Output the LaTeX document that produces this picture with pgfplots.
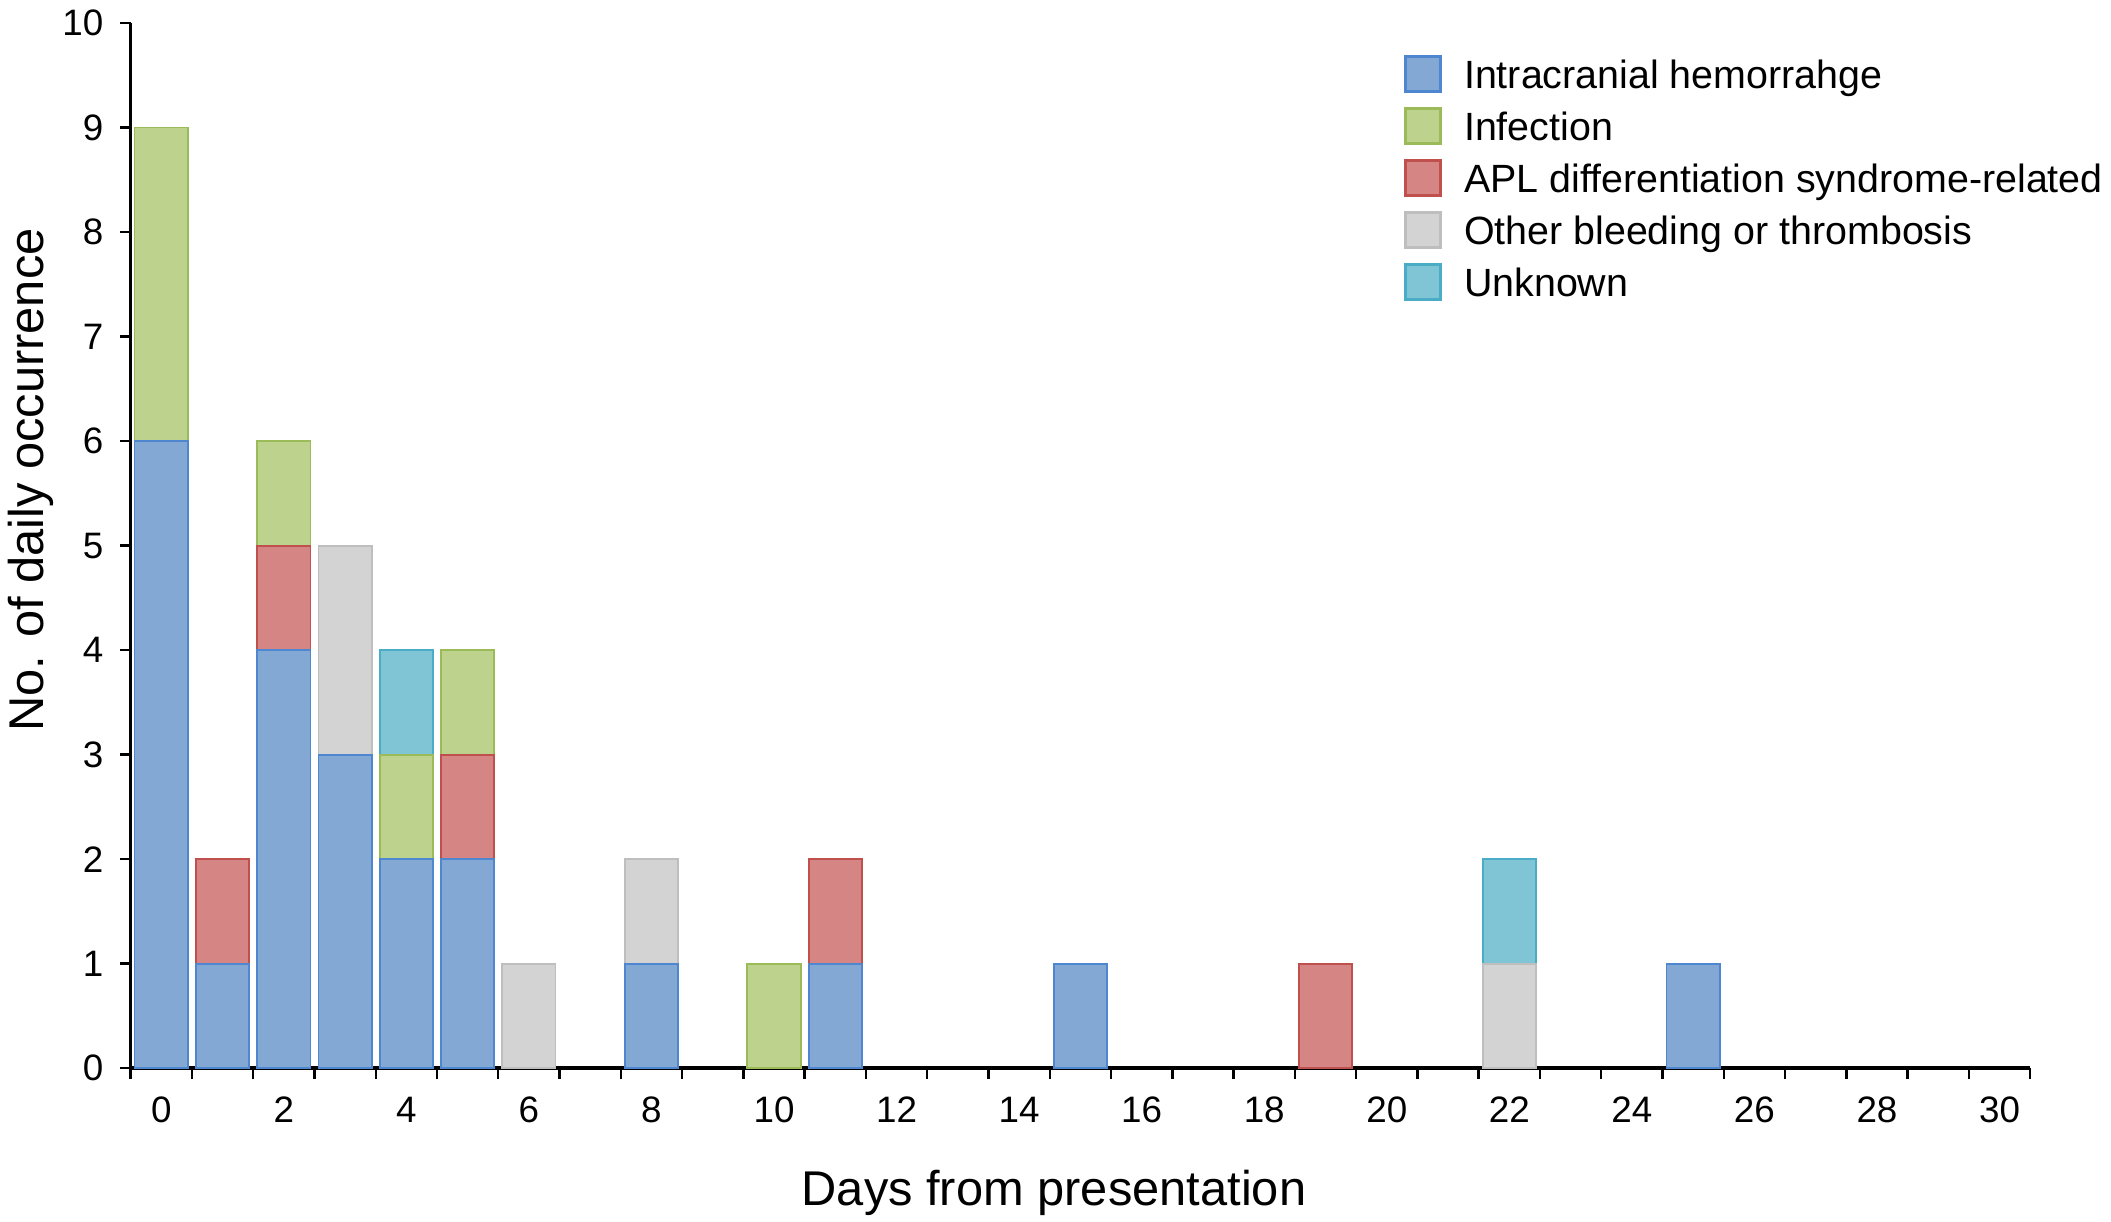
\documentclass[border=0pt]{standalone}
\usepackage{pgfplots}
\pgfplotsset{compat=1.18}
\usepackage{fontspec}
\setmainfont{Liberation Sans}
\definecolor{ichF}{HTML}{84A8D4}
\definecolor{ichE}{HTML}{4F86D0}
\definecolor{infF}{HTML}{BDD28D}
\definecolor{infE}{HTML}{9BBB59}
\definecolor{aplF}{HTML}{D58584}
\definecolor{aplE}{HTML}{C0504D}
\definecolor{othF}{HTML}{D3D3D3}
\definecolor{othE}{HTML}{BEBEBE}
\definecolor{unkF}{HTML}{80C5D6}
\definecolor{unkE}{HTML}{4BACC6}
\pgfplotsset{sqlegend/.style={legend image code/.code={\draw[##1] (0pt,-4.375pt) rectangle (8.75pt,4.375pt);}}}
\begin{document}
\begin{tikzpicture}
\begin{axis}[
  scale only axis, width=474.9pt, height=261.3pt,
  at={(0,0)}, anchor=south west,
  xmin=-0.5, xmax=30.5, ymin=0, ymax=10,
  axis x line*=bottom, axis y line*=left,
  x axis line style={line width=0.9pt},
  y axis line style={line width=0.6pt},
  xtick={-0.5,0.5,...,30.5},
  xticklabels={0,,2,,4,,6,,8,,10,,12,,14,,16,,18,,20,,22,,24,,26,,28,,30,},
  ytick={0,1,...,10},
  tick align=outside,
  major tick length=2.7pt,
  tick style={line width=0.6pt, black},
  /pgf/number format/assume math mode=true,
  tick label style={font=\fontsize{9.2}{11}\selectfont},
  xticklabel style={xshift=7.66pt, yshift=-1pt},
  yticklabel style={xshift=-0.6pt},
  xlabel={Days from presentation},
  ylabel={No. of daily occurrence},
  label style={font=\fontsize{12.2}{14}\selectfont},
  xlabel style={at={(axis description cs:0.4861,-0.1311)}, anchor=base},
  ylabel style={at={(axis description cs:-0.0461,0.5626)}, anchor=base},
  legend style={at={(0.6705,0.9707)}, anchor=north west, draw=none, fill=none,
    inner sep=0pt, outer sep=0pt, font=\fontsize{9.85}{12}\selectfont,
    row sep=2.8pt,
    nodes={inner sep=0pt, text height=8.7pt, text depth=1.5pt},
    /tikz/every odd column/.append style={column sep=5.6pt}},
  legend cell align=left,
]
% drawn from the top layer of each stack down: each value is the height of that segment's top
\addplot[ybar, bar width=0.87, bar shift=0pt, fill=unkF, draw=unkE, line width=0.45pt, forget plot]
  coordinates {(4,4) (22,2)};
\addplot[ybar, bar width=0.87, bar shift=0pt, fill=othF, draw=othE, line width=0.45pt, forget plot]
  coordinates {(3,5) (6,1) (8,2) (22,1)};
\addplot[ybar, bar width=0.87, bar shift=0pt, fill=infF, draw=infE, line width=0.45pt, forget plot]
  coordinates {(0,9) (2,6) (4,3) (5,4) (10,1)};
\addplot[ybar, bar width=0.87, bar shift=0pt, fill=aplF, draw=aplE, line width=0.45pt, forget plot]
  coordinates {(1,2) (2,5) (5,3) (11,2) (19,1)};
\addplot[ybar, bar width=0.87, bar shift=0pt, fill=ichF, draw=ichE, line width=0.45pt, forget plot]
  coordinates {(0,6) (1,1) (2,4) (3,3) (4,2) (5,2) (8,1) (11,1) (15,1) (25,1)};

\addlegendimage{sqlegend, fill=ichF, draw=ichE, line width=0.6pt}
\addlegendentry{Intracranial hemorrahge}
\addlegendimage{sqlegend, fill=infF, draw=infE, line width=0.6pt}
\addlegendentry{Infection}
\addlegendimage{sqlegend, fill=aplF, draw=aplE, line width=0.6pt}
\addlegendentry{APL differentiation syndrome-related}
\addlegendimage{sqlegend, fill=othF, draw=othE, line width=0.6pt}
\addlegendentry{Other bleeding or thrombosis}
\addlegendimage{sqlegend, fill=unkF, draw=unkE, line width=0.6pt}
\addlegendentry{Unknown}
\end{axis}
\pgfresetboundingbox
\path[use as bounding box] (-32.65pt,-38.25pt) rectangle (495.1pt,267.05pt);
\end{tikzpicture}
\end{document}
